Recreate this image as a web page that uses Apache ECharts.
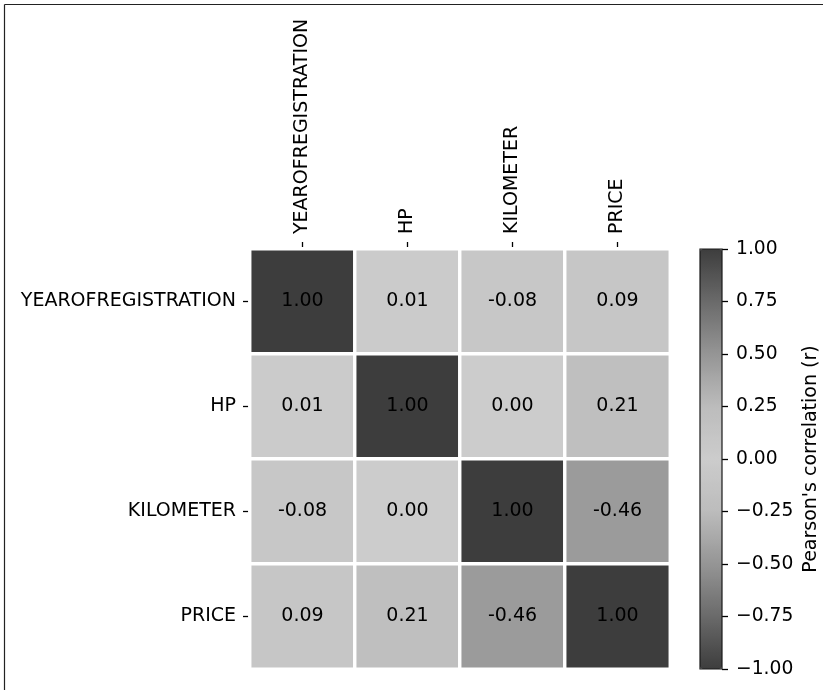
<!DOCTYPE html>
<html>
<head>
<meta charset="utf-8">
<script src="https://cdn.jsdelivr.net/npm/echarts@6/dist/echarts.min.js"></script>
<style>
  html, body { margin: 0; padding: 0; background: #fff; }
  #chart { width: 823px; height: 690px; }
</style>
</head>
<body>
<div id="chart"></div>
<script>
// Variables in the correlation matrix (row order = column order)
const variables = ['YEAROFREGISTRATION', 'HP', 'KILOMETER', 'PRICE'];

// Pearson's r, one row per variable
const rowYear = [1.00, 0.01, -0.08, 0.09];
const rowHp = [0.01, 1.00, 0.00, 0.21];
const rowKm = [-0.08, 0.00, 1.00, -0.46];
const rowPrice = [0.09, 0.21, -0.46, 1.00];
const matrixRows = [rowYear, rowHp, rowKm, rowPrice];

// Colour bar scale
const scaleMin = -1;
const scaleMax = 1;
const scaleStep = 0.25;

const FONT = 'DejaVu Sans';
const FS = 19;

const cells = [];
matrixRows.forEach(function (row, r) {
  row.forEach(function (v, c) {
    cells.push([c, r, v]);
  });
});

// Grey diverging ramp: dark at |r| = 1, light at r = 0
const greyRamp = ['#3d3d3d', '#6a6a6a', '#959595', '#bcbcbc', '#cccccc',
                  '#bcbcbc', '#959595', '#6a6a6a', '#3d3d3d'];

const chart = echarts.init(document.getElementById('chart'), null, { renderer: 'canvas' });

chart.setOption({
  backgroundColor: '#ffffff',
  animation: false,
  textStyle: { fontFamily: FONT },
  grid: [
    { left: 250, top: 249, width: 420, height: 420 },
    { left: 700, top: 249, width: 22, height: 420, show: true,
      borderColor: '#1a1a1a', borderWidth: 1.2, backgroundColor: 'transparent', z: 6 }
  ],
  xAxis: [
    {
      type: 'category', gridIndex: 0, data: variables, position: 'top',
      axisLine: { show: false },
      axisTick: { show: true, alignWithLabel: true, length: 7,
                  lineStyle: { color: '#000', width: 1.3 } },
      axisLabel: { rotate: -90, margin: 15, color: '#000', fontSize: FS, fontFamily: FONT },
      splitLine: { show: false }
    },
    {
      type: 'category', gridIndex: 1, data: [''], show: false
    }
  ],
  yAxis: [
    {
      type: 'category', gridIndex: 0, data: variables, inverse: true,
      axisLine: { show: false },
      axisTick: { show: true, alignWithLabel: true, length: 7,
                  lineStyle: { color: '#000', width: 1.3 } },
      axisLabel: { margin: 14, color: '#000', fontSize: FS, fontFamily: FONT },
      splitLine: { show: false }
    },
    {
      type: 'value', gridIndex: 1, position: 'right',
      min: scaleMin, max: scaleMax, interval: scaleStep,
      axisLine: { show: false },
      axisTick: { show: true, length: 6, lineStyle: { color: '#000', width: 1.3 } },
      axisLabel: {
        margin: 14, color: '#000', fontSize: 18.7, fontFamily: FONT,
        formatter: function (v) { return v.toFixed(2).replace('-', '\u2212'); }
      },
      splitLine: { show: false },
      name: "Pearson's correlation (r)",
      nameLocation: 'middle', nameRotate: 90, nameGap: 80,
      nameTextStyle: { color: '#000', fontSize: FS, fontFamily: FONT }
    }
  ],
  visualMap: {
    type: 'continuous',
    min: scaleMin, max: scaleMax,
    seriesIndex: 0,
    calculable: false,
    orient: 'vertical',
    left: 700, top: 249,
    itemWidth: 22, itemHeight: 420,
    padding: 0,
    text: null,
    showLabel: false,
    hoverLink: false,
    inRange: { color: greyRamp }
  },
  graphic: [
    { type: 'line', shape: { x1: 4.5, y1: 4.5, x2: 823, y2: 4.5 },
      style: { stroke: '#222', lineWidth: 1.2 }, silent: true },
    { type: 'line', shape: { x1: 4.5, y1: 4.5, x2: 4.5, y2: 690 },
      style: { stroke: '#222', lineWidth: 1.2 }, silent: true }
  ],
  series: [
    {
      type: 'heatmap',
      xAxisIndex: 0, yAxisIndex: 0,
      data: cells,
      itemStyle: { borderColor: '#ffffff', borderWidth: 3.4 },
      label: {
        show: true, color: '#000', fontSize: FS, fontFamily: FONT,
        formatter: function (p) { return p.value[2].toFixed(2); }
      },
      emphasis: { disabled: true }
    }
  ]
});
</script>
</body>
</html>
